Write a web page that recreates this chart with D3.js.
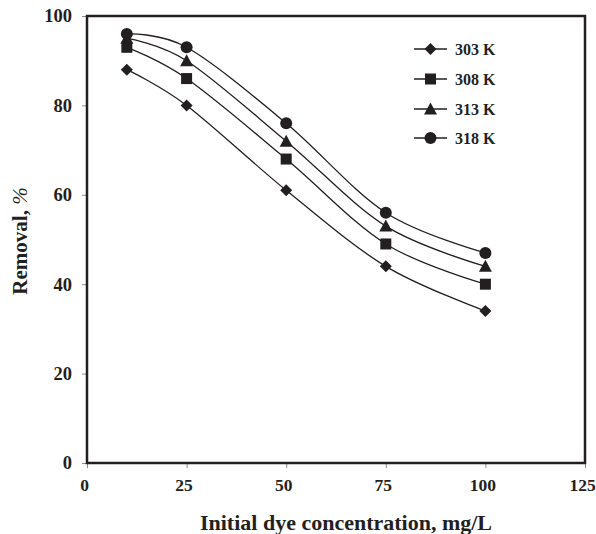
<!DOCTYPE html>
<html>
<head>
<meta charset="utf-8">
<script src="https://cdn.jsdelivr.net/npm/d3@7"></script>
<style>
  html, body { margin: 0; padding: 0; background: #fff; }
  svg text { font-family: "Liberation Serif", "Times New Roman", serif; font-weight: bold; fill: #231f20; }
</style>
</head>
<body>
<svg id="chart" width="596" height="534"></svg>
<script>
// Removal (%) vs. initial dye concentration at four temperatures
const concentrations = [10, 25, 50, 75, 100];
const series303 = [88, 80, 61, 44, 34];
const series308 = [93, 86, 68, 49, 40];
const series313 = [95, 90, 72, 53, 44];
const series318 = [96, 93, 76, 56, 47];
const seriesNames = ["303 K", "308 K", "313 K", "318 K"];
const markerTypes = ["diamond", "square", "triangle", "circle"];
const xTicks = [0, 25, 50, 75, 100, 125];
const yTicks = [0, 20, 40, 60, 80, 100];

const allSeries = [series303, series308, series313, series318];
const ink = "#231f20";

const svg = d3.select("#chart");
const plotLeft = 87, plotRight = 585, plotTop = 16, plotBottom = 463;

const x = d3.scaleLinear().domain([0, 125]).range([plotLeft, plotRight]);
const y = d3.scaleLinear().domain([0, 100]).range([plotBottom, plotTop]);

// axes with outward ticks
const xAxis = svg.append("g").attr("transform", `translate(0,${plotBottom})`)
  .call(d3.axisBottom(x).tickValues(xTicks).tickSize(5).tickPadding(11));
const yAxis = svg.append("g").attr("transform", `translate(${plotLeft},0)`)
  .call(d3.axisLeft(y).tickValues(yTicks).tickSize(5).tickPadding(10));
[xAxis, yAxis].forEach(g => {
  g.select(".domain").remove();
  g.selectAll(".tick line").attr("stroke", "#8a8a8a").attr("stroke-width", 1);
  g.selectAll(".tick text").attr("fill", ink);
});
yAxis.selectAll(".tick text").style("font-size", "18.5px");
xAxis.selectAll(".tick text").style("font-size", "17.5px").attr("dx", "-3");

// plot frame
svg.append("rect")
  .attr("x", plotLeft).attr("y", plotTop)
  .attr("width", plotRight - plotLeft).attr("height", plotBottom - plotTop)
  .attr("fill", "none").attr("stroke", ink).attr("stroke-width", 2.5);

// smoothed series lines
const line = d3.line()
  .x((d, i) => x(concentrations[i]))
  .y(d => y(d))
  .curve(d3.curveCardinal.tension(0));

allSeries.forEach(vals => {
  svg.append("path").datum(vals)
    .attr("d", line)
    .attr("fill", "none").attr("stroke", ink).attr("stroke-width", 1.3);
});

function drawMarker(g, type, cx, cy) {
  if (type === "diamond") {
    g.append("path").attr("d", `M${cx},${cy - 6}L${cx + 6},${cy}L${cx},${cy + 6}L${cx - 6},${cy}Z`).attr("fill", ink);
  } else if (type === "square") {
    g.append("rect").attr("x", cx - 5.5).attr("y", cy - 5.5).attr("width", 11).attr("height", 11).attr("fill", ink);
  } else if (type === "triangle") {
    g.append("path").attr("d", `M${cx},${cy - 6.5}L${cx + 6.5},${cy + 5.5}L${cx - 6.5},${cy + 5.5}Z`).attr("fill", ink);
  } else {
    g.append("circle").attr("cx", cx).attr("cy", cy).attr("r", 6).attr("fill", ink);
  }
}

const markers = svg.append("g");
allSeries.forEach((vals, s) => {
  vals.forEach((v, i) => drawMarker(markers, markerTypes[s], x(concentrations[i]), y(v)));
});

// legend
const legend = svg.append("g");
const legendY = [49, 79, 109, 138];
seriesNames.forEach((name, s) => {
  const ly = legendY[s];
  legend.append("line").attr("x1", 414).attr("x2", 447).attr("y1", ly).attr("y2", ly)
    .attr("stroke", ink).attr("stroke-width", 1.3);
  drawMarker(legend, markerTypes[s], 430.5, ly);
  legend.append("text").attr("x", 455).attr("y", ly + 5.5).style("font-size", "16px").text(name);
});

// axis titles
svg.append("text").attr("x", 346).attr("y", 530).attr("text-anchor", "middle")
  .style("font-size", "22px").text("Initial dye concentration, mg/L");
const yTitle = svg.append("text").attr("transform", "translate(27,241) rotate(-90)")
  .attr("text-anchor", "middle").style("font-size", "21px");
yTitle.append("tspan").text("Removal, ");
yTitle.append("tspan").style("font-style", "italic").style("font-weight", "normal").text("%");
</script>
</body>
</html>
